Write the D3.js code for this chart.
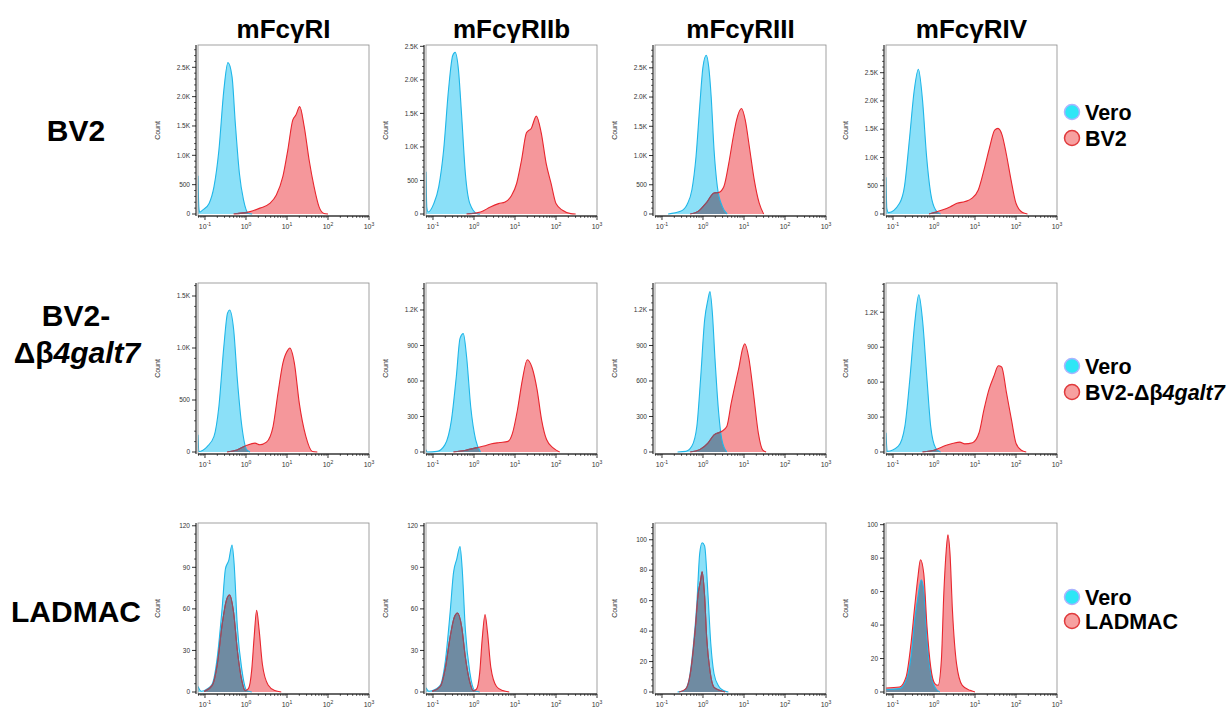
<!DOCTYPE html>
<html>
<head>
<meta charset="utf-8">
<script src="https://cdn.jsdelivr.net/npm/d3@7"></script>
<style>
  body { margin:0; background:#fff; }
  svg { font-family: "Liberation Sans", Arial, sans-serif; }
</style>
</head>
<body>
<div id="chart"></div>
<script>
// receptores (colunas) e linhagens (linhas)
const receptors = ["mFcγRI", "mFcγRIIb", "mFcγRIII", "mFcγRIV"];
const cellLines = ["BV2", "BV2-Δβ4galt7", "LADMAC"];
const xTickExps = [-1, 0, 1, 2, 3];

// topo do eixo y de cada painel e passo dos ticks
const yMax = [[2880, 2520, 2890, 2990], [1625, 1428, 1428, 1451], [122, 122, 111, 101]];
const yStep = [[500, 500, 500, 500], [500, 300, 300, 300], [30, 30, 20, 20]];

// histogramas: [expoente log10, contagem]
const veroBV2 = [
  [[-1.17,650],[-1.15,120],[-1.13,30],[-1.05,70],[-0.9,180],[-0.78,465],[-0.66,1090],[-0.54,2110],[-0.44,2580],[-0.34,2340],[-0.26,1545],[-0.16,690],[-0.06,240],[0.06,10],[0.15,0]],
  [[-1.17,630],[-1.15,100],[-1.12,30],[-0.98,155],[-0.86,405],[-0.74,955],[-0.62,1860],[-0.52,2360],[-0.46,2410],[-0.38,2160],[-0.3,1460],[-0.21,605],[-0.1,155],[0.08,5],[0.15,0]],
  [[-0.85,0],[-0.55,45],[-0.39,160],[-0.27,415],[-0.17,980],[-0.08,1835],[0,2515],[0.08,2715],[0.14,2515],[0.2,2005],[0.27,1095],[0.35,470],[0.47,130],[0.59,0]],
  [[-1.17,650],[-1.15,100],[-1.11,25],[-0.84,190],[-0.72,485],[-0.6,1310],[-0.48,2195],[-0.38,2560],[-0.28,2020],[-0.18,1015],[-0.08,365],[0.04,70],[0.16,0]]
];
const cellBV2 = [
  [[-0.3,0],[0.1,40],[0.34,100],[0.58,180],[0.74,325],[0.9,640],[1.02,1090],[1.14,1600],[1.22,1690],[1.31,1830],[1.42,1490],[1.54,920],[1.66,465],[1.78,125],[1.9,10],[2.0,0]],
  [[-0.18,0],[0.16,30],[0.4,105],[0.6,155],[0.76,180],[0.92,280],[1.04,455],[1.16,805],[1.28,1210],[1.4,1280],[1.52,1460],[1.64,1210],[1.76,755],[1.88,455],[2.0,155],[2.16,55],[2.36,5],[2.48,0]],
  [[-0.31,0],[-0.12,45],[0.08,190],[0.27,360],[0.39,370],[0.51,470],[0.63,870],[0.74,1325],[0.82,1610],[0.94,1805],[1.03,1610],[1.13,1155],[1.25,585],[1.37,190],[1.48,0]],
  [[-0.12,0],[0.2,70],[0.4,130],[0.56,190],[0.76,220],[0.92,275],[1.08,425],[1.24,840],[1.36,1190],[1.48,1485],[1.56,1515],[1.66,1400],[1.76,1075],[1.88,600],[2.0,190],[2.16,25],[2.28,0]]
];
const veroKO = [
  [[-1.17,165],[-1.15,5],[-0.94,55],[-0.78,150],[-0.66,440],[-0.54,1015],[-0.45,1335],[-0.4,1365],[-0.3,1175],[-0.21,695],[-0.1,245],[0.02,20],[0.1,0]],
  [[-1.17,20],[-1.14,0],[-0.9,5],[-0.71,60],[-0.55,270],[-0.43,640],[-0.34,960],[-0.26,1000],[-0.18,805],[-0.08,385],[0.04,105],[0.16,0]],
  [[-0.62,0],[-0.42,5],[-0.27,50],[-0.15,215],[-0.06,610],[0.04,1115],[0.12,1285],[0.17,1355],[0.23,1170],[0.29,805],[0.37,385],[0.46,105],[0.58,0]],
  [[-1.17,165],[-1.14,5],[-0.87,50],[-0.71,220],[-0.59,620],[-0.47,1105],[-0.37,1350],[-0.28,1135],[-0.17,620],[-0.08,220],[0.04,35],[0.16,0]]
];
const cellKO = [
  [[-0.46,0],[-0.22,20],[0.02,65],[0.22,85],[0.34,70],[0.5,95],[0.66,245],[0.78,565],[0.9,855],[1.02,980],[1.07,1000],[1.18,855],[1.3,470],[1.46,150],[1.62,5],[1.74,0]],
  [[-0.5,0],[-0.2,15],[0.04,35],[0.24,50],[0.43,70],[0.63,80],[0.83,90],[0.94,160],[1.06,355],[1.18,610],[1.3,780],[1.42,710],[1.54,525],[1.65,270],[1.77,105],[1.93,35],[2.09,0]],
  [[-0.31,0],[-0.08,20],[0.12,75],[0.27,145],[0.46,175],[0.58,215],[0.69,415],[0.81,610],[0.88,720],[0.96,865],[1.02,915],[1.12,790],[1.23,500],[1.35,160],[1.46,15],[1.54,0]],
  [[-0.28,0],[0.04,20],[0.28,55],[0.47,75],[0.63,85],[0.75,70],[0.94,80],[1.1,165],[1.22,365],[1.34,535],[1.46,650],[1.57,740],[1.65,730],[1.77,505],[1.89,275],[2.0,75],[2.13,15],[2.25,0]]
];
const veroLAD = [
  [[-1.17,4],[-1.09,0.5],[-0.94,2.4],[-0.82,6],[-0.7,25],[-0.58,61],[-0.5,89],[-0.42,95],[-0.34,106],[-0.29,93],[-0.21,47],[-0.1,16],[0.02,1],[0.14,0]],
  [[-1.17,3],[-1.1,0.5],[-0.94,2],[-0.82,5],[-0.7,22],[-0.58,58],[-0.5,86],[-0.42,96],[-0.34,105],[-0.29,90],[-0.21,45],[-0.1,14],[0.02,1],[0.14,0]],
  [[-0.62,0],[-0.46,1],[-0.35,7],[-0.23,32],[-0.15,58],[-0.08,91],[-0.02,98],[0.04,96],[0.12,65],[0.19,32],[0.27,12],[0.38,4],[0.5,1],[0.62,0]],
  [[-1.17,1.5],[-0.84,2],[-0.68,7],[-0.56,21],[-0.47,43],[-0.39,57],[-0.31,67],[-0.25,61],[-0.17,31],[-0.09,13],[0.02,3],[0.14,0]]
];
const cellLAD = [
  [[-1.02,0.5],[-0.82,5],[-0.7,20],[-0.58,49],[-0.48,66],[-0.4,70],[-0.3,57],[-0.21,30],[-0.1,8],[-0.02,1],[0.06,2.4],[0.14,16],[0.2,40],[0.26,59],[0.32,45],[0.4,20],[0.54,5],[0.7,1],[0.86,0]],
  [[-1.02,0.5],[-0.82,4],[-0.7,17],[-0.58,40],[-0.48,54],[-0.4,57],[-0.3,47],[-0.21,25],[-0.1,7],[-0.02,1],[0.06,2],[0.14,14],[0.2,38],[0.27,56],[0.33,43],[0.41,18],[0.55,4],[0.7,1],[0.86,0]],
  [[-0.58,0],[-0.42,2],[-0.31,12],[-0.19,41],[-0.12,64],[-0.06,73],[-0.02,79],[0.04,63],[0.09,36],[0.17,14],[0.27,3],[0.42,1],[0.54,0]],
  [[-1.17,2.4],[-0.84,3],[-0.68,9],[-0.56,29],[-0.47,51],[-0.39,69],[-0.33,79],[-0.25,71],[-0.17,39],[-0.08,15],[0.02,5],[0.1,4],[0.18,19],[0.24,59],[0.3,85],[0.34,94],[0.39,83],[0.45,49],[0.55,17],[0.69,4],[0.88,1],[1.0,0]]
];
const veroAll = [veroBV2, veroKO, veroLAD];
const cellAll = [cellBV2, cellKO, cellLAD];

// layout
const largura = 1229, altura = 709;
const colX = [198, 426, 655, 886];
const rowY = [45, 283, 523];
const W = 171, H = 171;

const azulLinha = "#1fb6e8", azulFill = "#8be0f8";
const vermLinha = "#e8262e", vermFill = "#f5979b";
const sobreposto = "#6f8ba2"; // onde os dois histogramas se cruzam
const linhaSobre = "#80566c";

const svg = d3.select("#chart").append("svg")
  .attr("width", largura).attr("height", altura);
svg.append("rect").attr("width", largura).attr("height", altura).attr("fill", "#fff");

const x = d3.scaleLog().domain([Math.pow(10, -1.17), 1000]).range([0, W]);

// titulos das colunas
receptors.forEach((r, j) => {
  svg.append("text")
    .attr("x", colX[j] + W / 2).attr("y", 38)
    .attr("text-anchor", "middle")
    .attr("font-size", 26).attr("font-weight", "bold")
    .text(r);
});

// rotulos das linhas
const fs = 30;
svg.append("text").attr("x", 76).attr("y", 141).attr("text-anchor", "middle")
  .attr("font-size", fs).attr("font-weight", "bold").text("BV2");
svg.append("text").attr("x", 76).attr("y", 326).attr("text-anchor", "middle")
  .attr("font-size", fs).attr("font-weight", "bold").text("BV2-");
const ko = svg.append("text").attr("x", 77).attr("y", 363).attr("text-anchor", "middle")
  .attr("font-size", fs).attr("font-weight", "bold");
ko.append("tspan").text("Δβ");
ko.append("tspan").attr("font-style", "italic").text("4galt7");
svg.append("text").attr("x", 76).attr("y", 622).attr("text-anchor", "middle")
  .attr("font-size", fs).attr("font-weight", "bold").text("LADMAC");

// legendas
const legY = [[112, 138], [366, 392], [597, 621]];
cellLines.forEach((c, i) => {
  const g = svg.append("g");
  g.append("circle").attr("cx", 1072).attr("cy", legY[i][0]).attr("r", 7.5)
    .attr("fill", "#2ee6f6").attr("stroke", "#aab4ff").attr("stroke-width", 1.5);
  g.append("circle").attr("cx", 1072).attr("cy", legY[i][1]).attr("r", 7.5)
    .attr("fill", "#f7a0a0").attr("stroke", "#e03a3c").attr("stroke-width", 1.5);
  g.append("text").attr("x", 1085).attr("y", legY[i][0] + 7.5)
    .attr("font-size", 21.5).attr("font-weight", "bold").text("Vero");
  const t = g.append("text").attr("x", 1085).attr("y", legY[i][1] + 7.5)
    .attr("font-size", 21.5).attr("font-weight", "bold");
  if (i === 1) {
    t.append("tspan").text("BV2-Δβ");
    t.append("tspan").attr("font-style", "italic").text("4galt7");
  } else {
    t.text(c);
  }
});

function fmtY(v) {
  return v >= 1000 ? (v / 1000).toFixed(1) + "K" : String(v);
}

// paineis
cellLines.forEach((c, i) => {
  receptors.forEach((r, j) => {
    const g = svg.append("g").attr("transform", `translate(${colX[j]},${rowY[i]})`);
    const y = d3.scaleLinear().domain([0, yMax[i][j]]).range([H - 2, 0]);

    const clipId = `clip-${i}-${j}`;
    g.append("clipPath").attr("id", clipId).append("rect").attr("width", W).attr("height", H);

    const area = d3.area()
      .x(d => x(Math.pow(10, d[0])))
      .y0(y(0)).y1(d => y(d[1]))
      .curve(d3.curveMonotoneX);
    const linha = d3.line()
      .x(d => x(Math.pow(10, d[0])))
      .y(d => y(d[1]))
      .curve(d3.curveMonotoneX);

    const plot = g.append("g").attr("clip-path", `url(#${clipId})`);
    const vero = veroAll[i][j], cel = cellAll[i][j];

    const blueClip = `bclip-${i}-${j}`;
    g.append("clipPath").attr("id", blueClip).append("path").datum(vero).attr("d", area);

    plot.append("path").datum(vero).attr("d", area).attr("fill", azulFill);
    plot.append("path").datum(cel).attr("d", area).attr("fill", vermFill);
    plot.append("path").datum(cel).attr("d", area).attr("fill", sobreposto)
      .attr("clip-path", `url(#${blueClip})`);
    plot.append("path").datum(vero).attr("d", linha)
      .attr("fill", "none").attr("stroke", azulLinha).attr("stroke-width", 1.1);
    plot.append("path").datum(cel).attr("d", linha)
      .attr("fill", "none").attr("stroke", vermLinha).attr("stroke-width", 1.1);
    // trecho da linha vermelha por dentro do azul fica escurecido
    plot.append("path").datum(cel).attr("d", linha)
      .attr("fill", "none").attr("stroke", linhaSobre).attr("stroke-width", 1.1)
      .attr("clip-path", `url(#${blueClip})`);

    // moldura
    g.append("rect").attr("width", W).attr("height", H)
      .attr("fill", "none").attr("stroke", "#8a8a8a").attr("stroke-width", 0.8);

    // eixo x
    const majors = xTickExps.map(e => Math.pow(10, e));
    const minors = [];
    [-2, -1, 0, 1, 2].forEach(e => {
      for (let k = 2; k <= 9; k++) {
        const v = k * Math.pow(10, e);
        if (v >= x.domain()[0] && v <= 1000) minors.push(v);
      }
    });
    const xg = g.append("g").attr("transform", `translate(0,${H})`);
    xg.append("line").attr("x1", 0).attr("x2", W).attr("stroke", "#000").attr("stroke-width", 1);
    xg.selectAll(".mn").data(minors).enter().append("line")
      .attr("x1", d => x(d)).attr("x2", d => x(d)).attr("y1", 0).attr("y2", 2)
      .attr("stroke", "#000").attr("stroke-width", 0.6);
    xg.selectAll(".mj").data(majors).enter().append("line")
      .attr("x1", d => x(d)).attr("x2", d => x(d)).attr("y1", 0).attr("y2", 4)
      .attr("stroke", "#000").attr("stroke-width", 0.8);
    xTickExps.forEach(e => {
      const t = xg.append("text").attr("x", x(Math.pow(10, e))).attr("y", 13)
        .attr("text-anchor", "middle").attr("font-size", 7).attr("fill", "#333");
      t.append("tspan").text("10");
      t.append("tspan").attr("font-size", 5).attr("dy", -3).text(e);
    });

    // eixo y
    const yg = g.append("g").attr("transform", "translate(-2,0)");
    yg.append("line").attr("y1", 0).attr("y2", H).attr("stroke", "#000").attr("stroke-width", 1);
    const step = yStep[i][j];
    const yMajors = d3.range(0, yMax[i][j] + 0.001, step);
    const yMinors = d3.range(0, yMax[i][j], step / 5).filter(v => !yMajors.includes(v));
    yg.selectAll(".ymn").data(yMinors).enter().append("line")
      .attr("x1", 0).attr("x2", -2).attr("y1", d => y(d)).attr("y2", d => y(d))
      .attr("stroke", "#000").attr("stroke-width", 0.6);
    yg.selectAll(".ymj").data(yMajors).enter().append("line")
      .attr("x1", 0).attr("x2", -4).attr("y1", d => y(d)).attr("y2", d => y(d))
      .attr("stroke", "#000").attr("stroke-width", 0.8);
    yg.selectAll(".ylb").data(yMajors).enter().append("text")
      .attr("x", -6).attr("y", d => y(d)).attr("dy", "0.35em")
      .attr("text-anchor", "end").attr("font-size", 6.5).attr("fill", "#333")
      .text(fmtY);

    g.append("text")
      .attr("transform", `translate(-38,${H / 2}) rotate(-90)`)
      .attr("text-anchor", "middle").attr("font-size", 7).attr("fill", "#333")
      .text("Count");
  });
});
</script>
</body>
</html>
